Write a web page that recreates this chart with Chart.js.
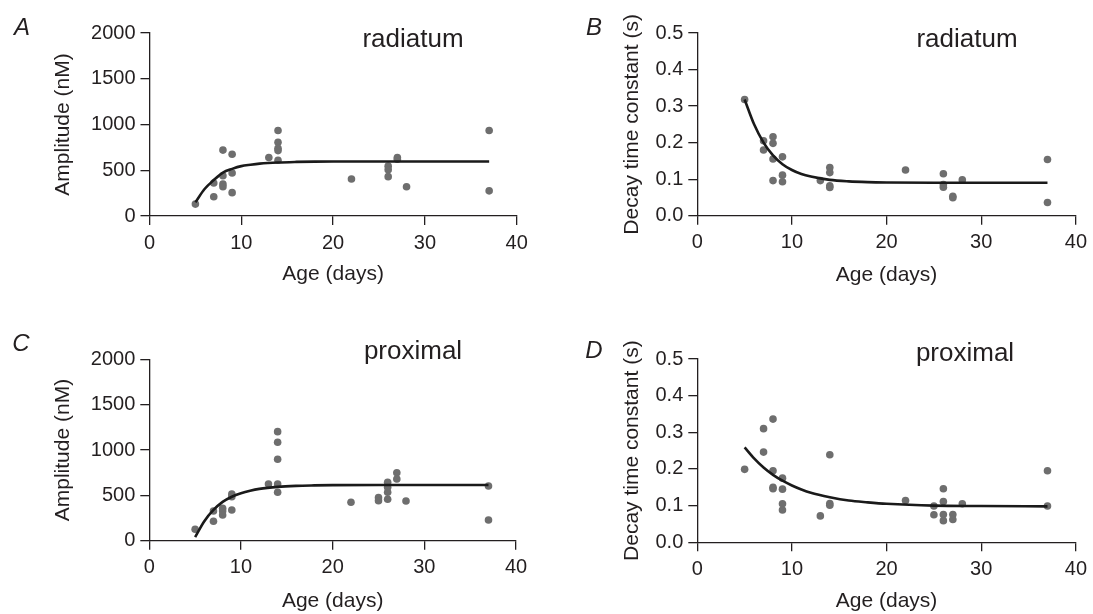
<!DOCTYPE html>
<html>
<head>
<meta charset="utf-8">
<script src="https://cdn.jsdelivr.net/npm/chart.js@4"></script>
<style>
body{margin:0;width:1093px;height:614px;overflow:hidden;background:#fff;position:relative;font-family:"Liberation Sans",Arial,sans-serif;color:#231f20}
canvas{position:absolute}
.lbl{position:absolute;transform:translate(-50%,-50%);white-space:nowrap}
.letter{font-style:italic;font-size:24px}
.sub{font-size:26px}
</style>
</head>
<body>
<canvas id="chartA" width="546" height="300" style="left:0;top:0"></canvas>
<canvas id="chartB" width="547" height="300" style="left:546px;top:0"></canvas>
<canvas id="chartC" width="546" height="314" style="left:0;top:300px"></canvas>
<canvas id="chartD" width="547" height="314" style="left:546px;top:300px"></canvas>

<div class="lbl letter" style="left:22px;top:27px">A</div>
<div class="lbl letter" style="left:594px;top:27px">B</div>
<div class="lbl letter" style="left:21px;top:343px">C</div>
<div class="lbl letter" style="left:594px;top:350px">D</div>
<div class="lbl sub" style="left:413px;top:38px">radiatum</div>
<div class="lbl sub" style="left:967px;top:38px">radiatum</div>
<div class="lbl sub" style="left:413px;top:350px">proximal</div>
<div class="lbl sub" style="left:965px;top:352px">proximal</div>

<script>
const aDays = [5, 7, 7, 8, 8, 8, 8, 9, 9, 9, 13, 14, 14, 14, 14, 14, 22, 26, 26, 26, 27, 27, 28, 37, 37]
const aAmp = [130, 210, 360, 720, 440, 350, 320, 675, 470, 255, 640, 935, 805, 740, 715, 610, 405, 545, 505, 430, 640, 620, 320, 935, 275]

const bDays = [5, 7, 7, 8, 8, 8, 8, 9, 9, 9, 13, 14, 14, 14, 14, 22, 26, 26, 26, 27, 27, 28, 37, 37]
const bTau = [0.318, 0.205, 0.18, 0.216, 0.198, 0.155, 0.096, 0.161, 0.111, 0.093, 0.096, 0.132, 0.118, 0.082, 0.077, 0.125, 0.115, 0.085, 0.078, 0.053, 0.049, 0.098, 0.154, 0.036]

const cDays = [5, 7, 7, 8, 8, 8, 9, 9, 9, 13, 14, 14, 14, 14, 14, 22, 25, 25, 26, 26, 26, 26, 27, 27, 28, 37, 37]
const cAmp = [126, 214, 328, 357, 328, 284, 515, 486, 339, 626, 1203, 1086, 898, 626, 534, 424, 475, 441, 644, 589, 534, 457, 750, 681, 438, 604, 228]

const dDays = [5, 7, 7, 8, 8, 8, 8, 9, 9, 9, 9, 13, 14, 14, 14, 22, 25, 25, 26, 26, 26, 26, 27, 27, 28, 37, 37]
const dTau = [0.199, 0.31, 0.246, 0.336, 0.195, 0.15, 0.146, 0.175, 0.145, 0.105, 0.088, 0.072, 0.239, 0.106, 0.101, 0.114, 0.099, 0.075, 0.146, 0.111, 0.076, 0.059, 0.076, 0.062, 0.105, 0.195, 0.099]

// fitted curves, sampled off the figure
const fitDays = [5, 6, 7, 8, 9, 10, 11, 12, 14, 16, 18, 20, 25, 30, 37]
const aFit = [150, 295, 393, 475, 515, 545, 560, 572, 585, 591, 594, 595, 595, 595, 595]
const bFit = [0.318, 0.25, 0.2, 0.165, 0.141, 0.125, 0.114, 0.107, 0.098, 0.094, 0.092, 0.091, 0.09, 0.09, 0.09]
const cFit = [40, 215, 339, 428, 485, 524, 552, 572, 594, 605, 610, 613, 615, 615, 615]
const dFit = [0.259, 0.229, 0.204, 0.184, 0.168, 0.155, 0.144, 0.135, 0.123, 0.114, 0.109, 0.105, 0.1, 0.099, 0.098]

const ampTicks = [0, 500, 1000, 1500, 2000]
const tauTicks = [0, 0.1, 0.2, 0.3, 0.4, 0.5]

const ink = "#231f20"
const font = "'Liberation Sans', Arial, sans-serif"

function pts(xs, ys) {
    return xs.map((x, i) => ({ x: x, y: ys[i] }))
}

// g: canvas box + wanted chart area in page pixels
function panel(id, g, days, vals, fit, yLabel, yTicks, decimals) {
    const yW = g.l - g.cl
    const xH = g.xTitleY + 12.6 - g.b
    new Chart(document.getElementById(id), {
        type: "scatter",
        data: {
            datasets: [{
                type: "line",
                data: pts(fitDays, fit),
                borderColor: "#1a1a1a",
                borderWidth: 2.6,
                pointRadius: 0,
                cubicInterpolationMode: "monotone",
                fill: false
            }, {
                data: pts(days, vals),
                backgroundColor: "#6e6e6e",
                borderWidth: 0,
                pointRadius: 3.8
            }]
        },
        options: {
            responsive: false,
            animation: false,
            events: [],
            layout: {
                padding: {
                    left: 0,
                    top: g.t - g.ct,
                    right: g.cl + g.cw - g.r,
                    bottom: g.ct + g.ch - g.b - xH
                }
            },
            plugins: { legend: { display: false }, tooltip: { enabled: false } },
            scales: {
                x: {
                    type: "linear",
                    min: 0, max: 40,
                    afterFit: s => { s.height = xH },
                    ticks: { stepSize: 10, color: ink, padding: 6, font: { family: font, size: 20 } },
                    grid: { drawOnChartArea: false, drawTicks: true, tickLength: 9, color: ink, lineWidth: 1.3 },
                    border: { display: true, color: ink, width: 1.3 },
                    title: { display: true, text: "Age (days)", color: ink, padding: { top: 0, bottom: 0 }, font: { family: font, size: 21 } }
                },
                y: {
                    min: yTicks[0], max: yTicks[yTicks.length - 1],
                    afterFit: s => { s.width = yW },
                    afterBuildTicks: s => { s.ticks = yTicks.map(v => ({ value: v })) },
                    ticks: {
                        color: ink, padding: 5, font: { family: font, size: 20 },
                        callback: v => v.toFixed(decimals)
                    },
                    grid: { drawOnChartArea: false, drawTicks: true, tickLength: 9, color: ink, lineWidth: 1.3 },
                    border: { display: true, color: ink, width: 1.3 },
                    title: { display: true, text: yLabel, color: ink, padding: { top: g.yTitleX - g.cl - 12.6, bottom: 0 }, font: { family: font, size: 21 } }
                }
            }
        }
    })
}

panel("chartA", { cl: 0, ct: 0, cw: 546, ch: 300, l: 149.5, t: 33, r: 516.7, b: 216, yTitleX: 63, xTitleY: 274 },
    aDays, aAmp, aFit, "Amplitude (nM)", ampTicks, 0)
panel("chartB", { cl: 546, ct: 0, cw: 547, ch: 300, l: 697.3, t: 33, r: 1078.5, b: 215.7, yTitleX: 632, xTitleY: 275 },
    bDays, bTau, bFit, "Decay time constant (s)", tauTicks, 1)
panel("chartC", { cl: 0, ct: 300, cw: 546, ch: 314, l: 149.3, t: 359.4, r: 516, b: 540.7, yTitleX: 63, xTitleY: 601 },
    cDays, cAmp, cFit, "Amplitude (nM)", ampTicks, 0)
panel("chartD", { cl: 546, ct: 300, cw: 547, ch: 314, l: 697.3, t: 359, r: 1078, b: 542.3, yTitleX: 632, xTitleY: 601 },
    dDays, dTau, dFit, "Decay time constant (s)", tauTicks, 1)
</script>
</body>
</html>
